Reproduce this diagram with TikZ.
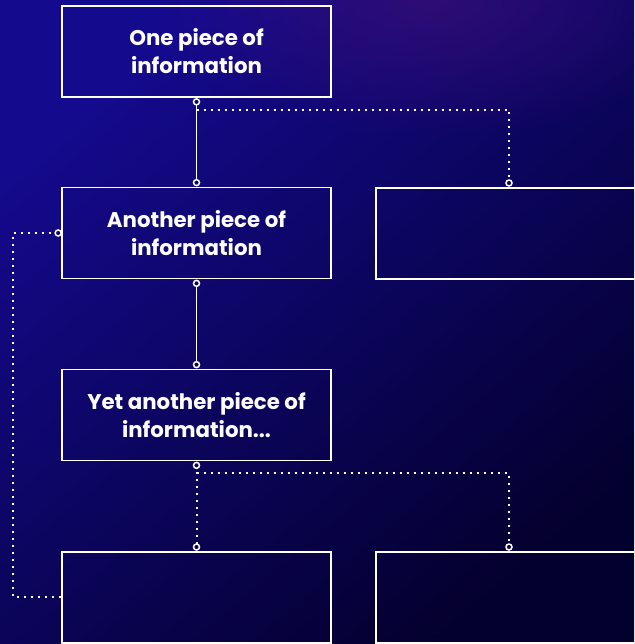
\documentclass[tikz,border=0pt]{standalone}
\usepackage{fontspec}
\setmainfont{Poppins}
\usetikzlibrary{fadings}
\definecolor{bgtop}{RGB}{20,10,142}
\definecolor{bgbot}{RGB}{4,0,46}
\definecolor{glow}{RGB}{66,16,116}
\definecolor{dotfill}{RGB}{10,6,90}
\tikzfading[name=softglow, inner color=transparent!0, outer color=transparent!100]
\tikzset{
  infobox/.style={draw=white, line width=1.7pt, minimum width=269pt, minimum height=91pt,
    inner sep=0pt, align=center, text=white,
    font=\fontsize{21.3}{28}\selectfont\bfseries},
  wire/.style={draw=white, line width=1.5pt},
  dotwire/.style={draw=white, line width=2pt, dash pattern=on 2pt off 5pt},
  port/.style={draw=white, line width=1.5pt, fill=dotfill},
}
\begin{document}
\begin{tikzpicture}[x=1pt, y=-1pt]
  \useasboundingbox (0,0) rectangle (634,644);
  \clip (0,0) rectangle (634,644);
  % backdrop
  \shade[top color=bgtop, bottom color=bgbot, shading angle=40] (0,0) rectangle (634,644);
  \fill[glow, path fading=softglow, fill opacity=0.6] (430,0) ellipse (280pt and 140pt);

  % boxes
  \node[infobox] (b1) at (196.5,51.5) {One piece of\\information};
  \node[infobox] (b2) at (196.5,233) {Another piece of\\information};
  \node[infobox, minimum width=330pt, anchor=north west] (b3) at (375,187) {};
  \node[infobox] (b4) at (196.5,415) {Yet another piece of\\information...};
  \node[infobox, anchor=north] (b5) at (196.5,551) {};
  \node[infobox, minimum width=330pt, anchor=north west] (b6) at (375,551) {};

  % port points on the box edges
  \coordinate (p1) at ([yshift=-4pt]b1.south);
  \coordinate (p2) at ([yshift=4pt]b2.north);
  \coordinate (p3) at ([xshift=134pt,yshift=4pt]b3.north west);
  \coordinate (p4) at ([yshift=-4pt]b2.south);
  \coordinate (p5) at ([yshift=4pt]b4.north);
  \coordinate (p6) at ([xshift=-3pt]b2.west);
  \coordinate (p7) at ([yshift=-4pt]b4.south);
  \coordinate (p8) at ([yshift=4pt]b5.north);
  \coordinate (p9) at ([xshift=134pt,yshift=4pt]b6.north west);
  \coordinate (b5w) at (b5.north west |- 0,597);

  % solid links
  \draw[wire] (p1) -- (p2);
  \draw[wire] (p4) -- (p5);

  % dotted links
  \draw[dotwire] ([yshift=-8pt]p1) -| (p3);
  \draw[dotwire] (p6) -- (13,233) |- (b5w);
  \draw[dotwire] (p7) -- (p8);
  \draw[dotwire] ([yshift=-8pt]p7) -| (p9);

  % ports
  \foreach \p in {p1,p2,p3,p4,p5,p6,p7,p8,p9}
    \draw[port] (\p) circle (3pt);
\end{tikzpicture}
\end{document}
